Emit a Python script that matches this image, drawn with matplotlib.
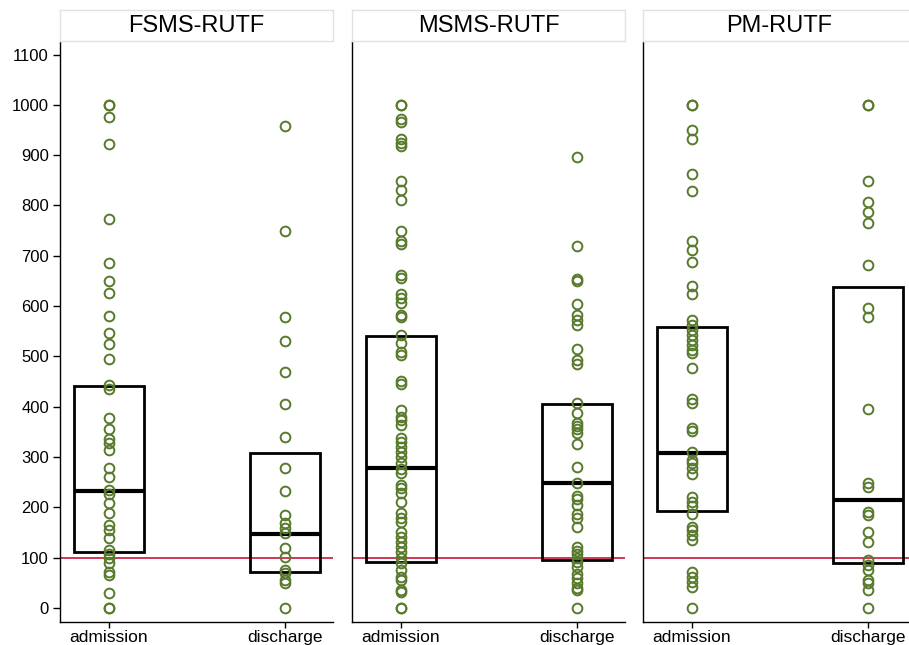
import matplotlib
matplotlib.use("Agg")
import matplotlib.pyplot as plt
from matplotlib.patches import Rectangle

plt.rcParams['font.family'] = ['Liberation Sans', 'DejaVu Sans']

panels = ["FSMS-RUTF", "MSMS-RUTF", "PM-RUTF"]
categories = ["admission", "discharge"]

fsms_admission = [1000, 1000, 975, 922, 773, 685, 650, 626, 580, 547, 525, 495, 443, 435, 378, 356,
                  336, 328, 314, 278, 261, 235, 227, 209, 189, 165, 155, 139, 115, 107, 99, 89, 72,
                  66, 30, 0, 0]
fsms_discharge = [959, 750, 578, 531, 468, 405, 339, 278, 233, 185, 169, 159, 149, 119, 101, 76, 70,
                  56, 50, 0]
msms_admission = [1000, 1000, 972, 966, 932, 924, 918, 849, 831, 811, 749, 730, 723, 662, 656, 624,
                  616, 606, 583, 579, 543, 527, 509, 502, 451, 445, 394, 380, 374, 364, 338, 330,
                  320, 310, 300, 288, 276, 268, 245, 238, 229, 211, 189, 179, 171, 151, 141, 131,
                  121, 111, 99, 89, 76, 62, 56, 36, 32, 0, 0]
msms_discharge = [897, 720, 654, 650, 604, 582, 573, 563, 515, 493, 485, 407, 388, 368, 362, 356,
                  348, 326, 281, 249, 223, 217, 205, 187, 179, 161, 121, 113, 107, 99, 91, 82, 68,
                  60, 50, 40, 36, 0]
pm_admission = [1000, 1000, 950, 932, 863, 829, 730, 712, 688, 640, 624, 573, 563, 553, 543, 533,
                523, 513, 507, 477, 415, 408, 358, 352, 310, 294, 288, 278, 266, 221, 211, 203,
                187, 161, 155, 145, 135, 72, 62, 52, 42, 0]
pm_discharge = [1000, 1000, 849, 807, 787, 765, 682, 597, 579, 396, 248, 241, 191, 185, 151, 131,
                95, 85, 76, 56, 50, 36, 0]

# box statistics: (lower quartile, median, upper quartile)
fsms_box = [(112, 233, 442), (72, 147, 308)]
msms_box = [(92, 279, 541), (96, 248, 406)]
pm_box = [(193, 308, 559), (89, 215, 637)]

reference_line = 100
y_ticks = list(range(0, 1101, 100))

series = [(fsms_admission, fsms_discharge), (msms_admission, msms_discharge),
          (pm_admission, pm_discharge)]
boxes = [fsms_box, msms_box, pm_box]

W, H = 909, 645
fig = plt.figure(figsize=(W / 100, H / 100), dpi=100)
fig.patch.set_facecolor("white")

panel_left_px = [60, 352, 643]
panel_w_px = 273
ax_bottom_px = 622
ax_top_px = 42
header_top_px = 10

green = "#587a2c"
red = "#c8143c"
box_w = 0.4

for i, name in enumerate(panels):
    left = panel_left_px[i] / W
    ax = fig.add_axes([left, (H - ax_bottom_px) / H, panel_w_px / W,
                       (ax_bottom_px - ax_top_px) / H])
    ax.set_xlim(0.722, 2.273)
    ax.set_ylim(-28, 1125)
    ax.axhline(reference_line, color=red, lw=1.2, zorder=1)
    for j, vals in enumerate(series[i]):
        xpos = j + 1
        q1, med, q3 = boxes[i][j]
        ax.add_patch(Rectangle((xpos - box_w / 2, q1), box_w, q3 - q1, fill=False,
                               edgecolor="black", lw=2.0, zorder=2))
        ax.plot([xpos - box_w / 2, xpos + box_w / 2], [med, med], color="black", lw=3.0,
                zorder=2, solid_capstyle="butt")
        ax.plot([xpos] * len(vals), vals, linestyle="none", marker="o", markersize=7,
                markerfacecolor="none", markeredgecolor=green, markeredgewidth=1.4, zorder=3)
    ax.set_xticks([1, 2])
    ax.set_xticklabels(categories, fontsize=12.5)
    ax.tick_params(axis="x", length=4, width=1, pad=2)
    for s in ["top", "right"]:
        ax.spines[s].set_visible(False)
    ax.spines["left"].set_linewidth(1.0)
    ax.spines["bottom"].set_linewidth(1.0)
    if i == 0:
        ax.set_yticks(y_ticks)
        ax.set_yticklabels([str(v) for v in y_ticks], fontsize=12)
        ax.tick_params(axis="y", length=5, width=1, pad=3)
    else:
        ax.set_yticks([])
    # header strip
    hax = fig.add_axes([left, (H - ax_top_px + 1) / H, panel_w_px / W,
                        (ax_top_px - 1 - header_top_px) / H])
    hax.set_xticks([])
    hax.set_yticks([])
    for s in hax.spines.values():
        s.set_edgecolor("#e2e2e2")
        s.set_linewidth(1.0)
    hax.text(0.5, 0.47, name, ha="center", va="center", fontsize=17,
             transform=hax.transAxes)

fig.savefig("out.png", dpi=100)
